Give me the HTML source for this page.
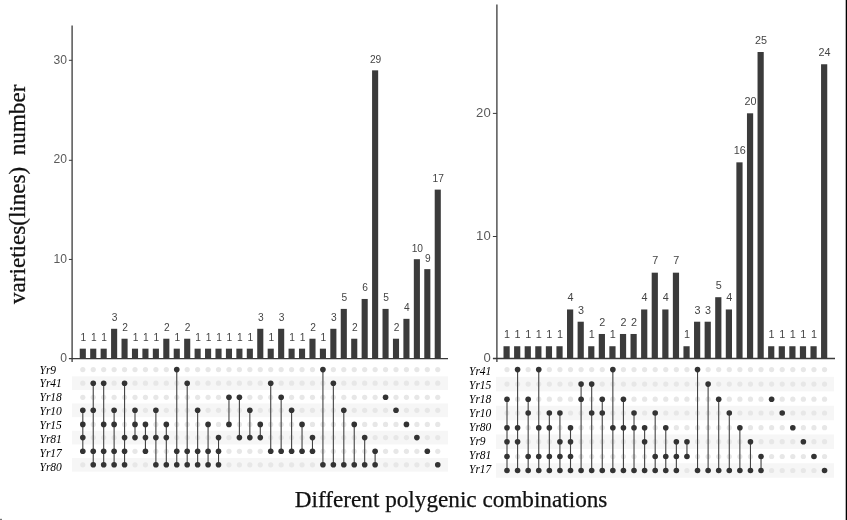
<!DOCTYPE html>
<html lang="en"><head><meta charset="utf-8"><title>Different polygenic combinations</title>
<style>html,body{margin:0;padding:0;background:#fff}body{width:847px;height:520px;overflow:hidden}svg{display:block}</style>
</head><body>
<svg width="847" height="520" viewBox="0 0 847 520">
<rect width="847" height="520" fill="#fff"/>
<g id="left">
<rect x="72" y="376.40" width="376" height="13.60" fill="#f6f6f6"/>
<rect x="72" y="403.50" width="376" height="13.60" fill="#f6f6f6"/>
<rect x="72" y="430.80" width="376" height="13.60" fill="#f6f6f6"/>
<rect x="72" y="458.00" width="376" height="13.60" fill="#f6f6f6"/>
<circle cx="82.80" cy="369.60" r="2.6" fill="#e7e7e7"/>
<circle cx="82.80" cy="383.20" r="2.6" fill="#e7e7e7"/>
<circle cx="82.80" cy="397.30" r="2.6" fill="#e7e7e7"/>
<circle cx="82.80" cy="410.30" r="2.6" fill="#e7e7e7"/>
<circle cx="82.80" cy="424.40" r="2.6" fill="#e7e7e7"/>
<circle cx="82.80" cy="437.60" r="2.6" fill="#e7e7e7"/>
<circle cx="82.80" cy="451.30" r="2.6" fill="#e7e7e7"/>
<circle cx="82.80" cy="464.80" r="2.6" fill="#e7e7e7"/>
<circle cx="93.24" cy="369.60" r="2.6" fill="#e7e7e7"/>
<circle cx="93.24" cy="383.20" r="2.6" fill="#e7e7e7"/>
<circle cx="93.24" cy="397.30" r="2.6" fill="#e7e7e7"/>
<circle cx="93.24" cy="410.30" r="2.6" fill="#e7e7e7"/>
<circle cx="93.24" cy="424.40" r="2.6" fill="#e7e7e7"/>
<circle cx="93.24" cy="437.60" r="2.6" fill="#e7e7e7"/>
<circle cx="93.24" cy="451.30" r="2.6" fill="#e7e7e7"/>
<circle cx="93.24" cy="464.80" r="2.6" fill="#e7e7e7"/>
<circle cx="103.68" cy="369.60" r="2.6" fill="#e7e7e7"/>
<circle cx="103.68" cy="383.20" r="2.6" fill="#e7e7e7"/>
<circle cx="103.68" cy="397.30" r="2.6" fill="#e7e7e7"/>
<circle cx="103.68" cy="410.30" r="2.6" fill="#e7e7e7"/>
<circle cx="103.68" cy="424.40" r="2.6" fill="#e7e7e7"/>
<circle cx="103.68" cy="437.60" r="2.6" fill="#e7e7e7"/>
<circle cx="103.68" cy="451.30" r="2.6" fill="#e7e7e7"/>
<circle cx="103.68" cy="464.80" r="2.6" fill="#e7e7e7"/>
<circle cx="114.12" cy="369.60" r="2.6" fill="#e7e7e7"/>
<circle cx="114.12" cy="383.20" r="2.6" fill="#e7e7e7"/>
<circle cx="114.12" cy="397.30" r="2.6" fill="#e7e7e7"/>
<circle cx="114.12" cy="410.30" r="2.6" fill="#e7e7e7"/>
<circle cx="114.12" cy="424.40" r="2.6" fill="#e7e7e7"/>
<circle cx="114.12" cy="437.60" r="2.6" fill="#e7e7e7"/>
<circle cx="114.12" cy="451.30" r="2.6" fill="#e7e7e7"/>
<circle cx="114.12" cy="464.80" r="2.6" fill="#e7e7e7"/>
<circle cx="124.56" cy="369.60" r="2.6" fill="#e7e7e7"/>
<circle cx="124.56" cy="383.20" r="2.6" fill="#e7e7e7"/>
<circle cx="124.56" cy="397.30" r="2.6" fill="#e7e7e7"/>
<circle cx="124.56" cy="410.30" r="2.6" fill="#e7e7e7"/>
<circle cx="124.56" cy="424.40" r="2.6" fill="#e7e7e7"/>
<circle cx="124.56" cy="437.60" r="2.6" fill="#e7e7e7"/>
<circle cx="124.56" cy="451.30" r="2.6" fill="#e7e7e7"/>
<circle cx="124.56" cy="464.80" r="2.6" fill="#e7e7e7"/>
<circle cx="135.00" cy="369.60" r="2.6" fill="#e7e7e7"/>
<circle cx="135.00" cy="383.20" r="2.6" fill="#e7e7e7"/>
<circle cx="135.00" cy="397.30" r="2.6" fill="#e7e7e7"/>
<circle cx="135.00" cy="410.30" r="2.6" fill="#e7e7e7"/>
<circle cx="135.00" cy="424.40" r="2.6" fill="#e7e7e7"/>
<circle cx="135.00" cy="437.60" r="2.6" fill="#e7e7e7"/>
<circle cx="135.00" cy="451.30" r="2.6" fill="#e7e7e7"/>
<circle cx="135.00" cy="464.80" r="2.6" fill="#e7e7e7"/>
<circle cx="145.44" cy="369.60" r="2.6" fill="#e7e7e7"/>
<circle cx="145.44" cy="383.20" r="2.6" fill="#e7e7e7"/>
<circle cx="145.44" cy="397.30" r="2.6" fill="#e7e7e7"/>
<circle cx="145.44" cy="410.30" r="2.6" fill="#e7e7e7"/>
<circle cx="145.44" cy="424.40" r="2.6" fill="#e7e7e7"/>
<circle cx="145.44" cy="437.60" r="2.6" fill="#e7e7e7"/>
<circle cx="145.44" cy="451.30" r="2.6" fill="#e7e7e7"/>
<circle cx="145.44" cy="464.80" r="2.6" fill="#e7e7e7"/>
<circle cx="155.88" cy="369.60" r="2.6" fill="#e7e7e7"/>
<circle cx="155.88" cy="383.20" r="2.6" fill="#e7e7e7"/>
<circle cx="155.88" cy="397.30" r="2.6" fill="#e7e7e7"/>
<circle cx="155.88" cy="410.30" r="2.6" fill="#e7e7e7"/>
<circle cx="155.88" cy="424.40" r="2.6" fill="#e7e7e7"/>
<circle cx="155.88" cy="437.60" r="2.6" fill="#e7e7e7"/>
<circle cx="155.88" cy="451.30" r="2.6" fill="#e7e7e7"/>
<circle cx="155.88" cy="464.80" r="2.6" fill="#e7e7e7"/>
<circle cx="166.32" cy="369.60" r="2.6" fill="#e7e7e7"/>
<circle cx="166.32" cy="383.20" r="2.6" fill="#e7e7e7"/>
<circle cx="166.32" cy="397.30" r="2.6" fill="#e7e7e7"/>
<circle cx="166.32" cy="410.30" r="2.6" fill="#e7e7e7"/>
<circle cx="166.32" cy="424.40" r="2.6" fill="#e7e7e7"/>
<circle cx="166.32" cy="437.60" r="2.6" fill="#e7e7e7"/>
<circle cx="166.32" cy="451.30" r="2.6" fill="#e7e7e7"/>
<circle cx="166.32" cy="464.80" r="2.6" fill="#e7e7e7"/>
<circle cx="176.76" cy="369.60" r="2.6" fill="#e7e7e7"/>
<circle cx="176.76" cy="383.20" r="2.6" fill="#e7e7e7"/>
<circle cx="176.76" cy="397.30" r="2.6" fill="#e7e7e7"/>
<circle cx="176.76" cy="410.30" r="2.6" fill="#e7e7e7"/>
<circle cx="176.76" cy="424.40" r="2.6" fill="#e7e7e7"/>
<circle cx="176.76" cy="437.60" r="2.6" fill="#e7e7e7"/>
<circle cx="176.76" cy="451.30" r="2.6" fill="#e7e7e7"/>
<circle cx="176.76" cy="464.80" r="2.6" fill="#e7e7e7"/>
<circle cx="187.20" cy="369.60" r="2.6" fill="#e7e7e7"/>
<circle cx="187.20" cy="383.20" r="2.6" fill="#e7e7e7"/>
<circle cx="187.20" cy="397.30" r="2.6" fill="#e7e7e7"/>
<circle cx="187.20" cy="410.30" r="2.6" fill="#e7e7e7"/>
<circle cx="187.20" cy="424.40" r="2.6" fill="#e7e7e7"/>
<circle cx="187.20" cy="437.60" r="2.6" fill="#e7e7e7"/>
<circle cx="187.20" cy="451.30" r="2.6" fill="#e7e7e7"/>
<circle cx="187.20" cy="464.80" r="2.6" fill="#e7e7e7"/>
<circle cx="197.64" cy="369.60" r="2.6" fill="#e7e7e7"/>
<circle cx="197.64" cy="383.20" r="2.6" fill="#e7e7e7"/>
<circle cx="197.64" cy="397.30" r="2.6" fill="#e7e7e7"/>
<circle cx="197.64" cy="410.30" r="2.6" fill="#e7e7e7"/>
<circle cx="197.64" cy="424.40" r="2.6" fill="#e7e7e7"/>
<circle cx="197.64" cy="437.60" r="2.6" fill="#e7e7e7"/>
<circle cx="197.64" cy="451.30" r="2.6" fill="#e7e7e7"/>
<circle cx="197.64" cy="464.80" r="2.6" fill="#e7e7e7"/>
<circle cx="208.08" cy="369.60" r="2.6" fill="#e7e7e7"/>
<circle cx="208.08" cy="383.20" r="2.6" fill="#e7e7e7"/>
<circle cx="208.08" cy="397.30" r="2.6" fill="#e7e7e7"/>
<circle cx="208.08" cy="410.30" r="2.6" fill="#e7e7e7"/>
<circle cx="208.08" cy="424.40" r="2.6" fill="#e7e7e7"/>
<circle cx="208.08" cy="437.60" r="2.6" fill="#e7e7e7"/>
<circle cx="208.08" cy="451.30" r="2.6" fill="#e7e7e7"/>
<circle cx="208.08" cy="464.80" r="2.6" fill="#e7e7e7"/>
<circle cx="218.52" cy="369.60" r="2.6" fill="#e7e7e7"/>
<circle cx="218.52" cy="383.20" r="2.6" fill="#e7e7e7"/>
<circle cx="218.52" cy="397.30" r="2.6" fill="#e7e7e7"/>
<circle cx="218.52" cy="410.30" r="2.6" fill="#e7e7e7"/>
<circle cx="218.52" cy="424.40" r="2.6" fill="#e7e7e7"/>
<circle cx="218.52" cy="437.60" r="2.6" fill="#e7e7e7"/>
<circle cx="218.52" cy="451.30" r="2.6" fill="#e7e7e7"/>
<circle cx="218.52" cy="464.80" r="2.6" fill="#e7e7e7"/>
<circle cx="228.96" cy="369.60" r="2.6" fill="#e7e7e7"/>
<circle cx="228.96" cy="383.20" r="2.6" fill="#e7e7e7"/>
<circle cx="228.96" cy="397.30" r="2.6" fill="#e7e7e7"/>
<circle cx="228.96" cy="410.30" r="2.6" fill="#e7e7e7"/>
<circle cx="228.96" cy="424.40" r="2.6" fill="#e7e7e7"/>
<circle cx="228.96" cy="437.60" r="2.6" fill="#e7e7e7"/>
<circle cx="228.96" cy="451.30" r="2.6" fill="#e7e7e7"/>
<circle cx="228.96" cy="464.80" r="2.6" fill="#e7e7e7"/>
<circle cx="239.40" cy="369.60" r="2.6" fill="#e7e7e7"/>
<circle cx="239.40" cy="383.20" r="2.6" fill="#e7e7e7"/>
<circle cx="239.40" cy="397.30" r="2.6" fill="#e7e7e7"/>
<circle cx="239.40" cy="410.30" r="2.6" fill="#e7e7e7"/>
<circle cx="239.40" cy="424.40" r="2.6" fill="#e7e7e7"/>
<circle cx="239.40" cy="437.60" r="2.6" fill="#e7e7e7"/>
<circle cx="239.40" cy="451.30" r="2.6" fill="#e7e7e7"/>
<circle cx="239.40" cy="464.80" r="2.6" fill="#e7e7e7"/>
<circle cx="249.84" cy="369.60" r="2.6" fill="#e7e7e7"/>
<circle cx="249.84" cy="383.20" r="2.6" fill="#e7e7e7"/>
<circle cx="249.84" cy="397.30" r="2.6" fill="#e7e7e7"/>
<circle cx="249.84" cy="410.30" r="2.6" fill="#e7e7e7"/>
<circle cx="249.84" cy="424.40" r="2.6" fill="#e7e7e7"/>
<circle cx="249.84" cy="437.60" r="2.6" fill="#e7e7e7"/>
<circle cx="249.84" cy="451.30" r="2.6" fill="#e7e7e7"/>
<circle cx="249.84" cy="464.80" r="2.6" fill="#e7e7e7"/>
<circle cx="260.28" cy="369.60" r="2.6" fill="#e7e7e7"/>
<circle cx="260.28" cy="383.20" r="2.6" fill="#e7e7e7"/>
<circle cx="260.28" cy="397.30" r="2.6" fill="#e7e7e7"/>
<circle cx="260.28" cy="410.30" r="2.6" fill="#e7e7e7"/>
<circle cx="260.28" cy="424.40" r="2.6" fill="#e7e7e7"/>
<circle cx="260.28" cy="437.60" r="2.6" fill="#e7e7e7"/>
<circle cx="260.28" cy="451.30" r="2.6" fill="#e7e7e7"/>
<circle cx="260.28" cy="464.80" r="2.6" fill="#e7e7e7"/>
<circle cx="270.72" cy="369.60" r="2.6" fill="#e7e7e7"/>
<circle cx="270.72" cy="383.20" r="2.6" fill="#e7e7e7"/>
<circle cx="270.72" cy="397.30" r="2.6" fill="#e7e7e7"/>
<circle cx="270.72" cy="410.30" r="2.6" fill="#e7e7e7"/>
<circle cx="270.72" cy="424.40" r="2.6" fill="#e7e7e7"/>
<circle cx="270.72" cy="437.60" r="2.6" fill="#e7e7e7"/>
<circle cx="270.72" cy="451.30" r="2.6" fill="#e7e7e7"/>
<circle cx="270.72" cy="464.80" r="2.6" fill="#e7e7e7"/>
<circle cx="281.16" cy="369.60" r="2.6" fill="#e7e7e7"/>
<circle cx="281.16" cy="383.20" r="2.6" fill="#e7e7e7"/>
<circle cx="281.16" cy="397.30" r="2.6" fill="#e7e7e7"/>
<circle cx="281.16" cy="410.30" r="2.6" fill="#e7e7e7"/>
<circle cx="281.16" cy="424.40" r="2.6" fill="#e7e7e7"/>
<circle cx="281.16" cy="437.60" r="2.6" fill="#e7e7e7"/>
<circle cx="281.16" cy="451.30" r="2.6" fill="#e7e7e7"/>
<circle cx="281.16" cy="464.80" r="2.6" fill="#e7e7e7"/>
<circle cx="291.60" cy="369.60" r="2.6" fill="#e7e7e7"/>
<circle cx="291.60" cy="383.20" r="2.6" fill="#e7e7e7"/>
<circle cx="291.60" cy="397.30" r="2.6" fill="#e7e7e7"/>
<circle cx="291.60" cy="410.30" r="2.6" fill="#e7e7e7"/>
<circle cx="291.60" cy="424.40" r="2.6" fill="#e7e7e7"/>
<circle cx="291.60" cy="437.60" r="2.6" fill="#e7e7e7"/>
<circle cx="291.60" cy="451.30" r="2.6" fill="#e7e7e7"/>
<circle cx="291.60" cy="464.80" r="2.6" fill="#e7e7e7"/>
<circle cx="302.04" cy="369.60" r="2.6" fill="#e7e7e7"/>
<circle cx="302.04" cy="383.20" r="2.6" fill="#e7e7e7"/>
<circle cx="302.04" cy="397.30" r="2.6" fill="#e7e7e7"/>
<circle cx="302.04" cy="410.30" r="2.6" fill="#e7e7e7"/>
<circle cx="302.04" cy="424.40" r="2.6" fill="#e7e7e7"/>
<circle cx="302.04" cy="437.60" r="2.6" fill="#e7e7e7"/>
<circle cx="302.04" cy="451.30" r="2.6" fill="#e7e7e7"/>
<circle cx="302.04" cy="464.80" r="2.6" fill="#e7e7e7"/>
<circle cx="312.48" cy="369.60" r="2.6" fill="#e7e7e7"/>
<circle cx="312.48" cy="383.20" r="2.6" fill="#e7e7e7"/>
<circle cx="312.48" cy="397.30" r="2.6" fill="#e7e7e7"/>
<circle cx="312.48" cy="410.30" r="2.6" fill="#e7e7e7"/>
<circle cx="312.48" cy="424.40" r="2.6" fill="#e7e7e7"/>
<circle cx="312.48" cy="437.60" r="2.6" fill="#e7e7e7"/>
<circle cx="312.48" cy="451.30" r="2.6" fill="#e7e7e7"/>
<circle cx="312.48" cy="464.80" r="2.6" fill="#e7e7e7"/>
<circle cx="322.92" cy="369.60" r="2.6" fill="#e7e7e7"/>
<circle cx="322.92" cy="383.20" r="2.6" fill="#e7e7e7"/>
<circle cx="322.92" cy="397.30" r="2.6" fill="#e7e7e7"/>
<circle cx="322.92" cy="410.30" r="2.6" fill="#e7e7e7"/>
<circle cx="322.92" cy="424.40" r="2.6" fill="#e7e7e7"/>
<circle cx="322.92" cy="437.60" r="2.6" fill="#e7e7e7"/>
<circle cx="322.92" cy="451.30" r="2.6" fill="#e7e7e7"/>
<circle cx="322.92" cy="464.80" r="2.6" fill="#e7e7e7"/>
<circle cx="333.36" cy="369.60" r="2.6" fill="#e7e7e7"/>
<circle cx="333.36" cy="383.20" r="2.6" fill="#e7e7e7"/>
<circle cx="333.36" cy="397.30" r="2.6" fill="#e7e7e7"/>
<circle cx="333.36" cy="410.30" r="2.6" fill="#e7e7e7"/>
<circle cx="333.36" cy="424.40" r="2.6" fill="#e7e7e7"/>
<circle cx="333.36" cy="437.60" r="2.6" fill="#e7e7e7"/>
<circle cx="333.36" cy="451.30" r="2.6" fill="#e7e7e7"/>
<circle cx="333.36" cy="464.80" r="2.6" fill="#e7e7e7"/>
<circle cx="343.80" cy="369.60" r="2.6" fill="#e7e7e7"/>
<circle cx="343.80" cy="383.20" r="2.6" fill="#e7e7e7"/>
<circle cx="343.80" cy="397.30" r="2.6" fill="#e7e7e7"/>
<circle cx="343.80" cy="410.30" r="2.6" fill="#e7e7e7"/>
<circle cx="343.80" cy="424.40" r="2.6" fill="#e7e7e7"/>
<circle cx="343.80" cy="437.60" r="2.6" fill="#e7e7e7"/>
<circle cx="343.80" cy="451.30" r="2.6" fill="#e7e7e7"/>
<circle cx="343.80" cy="464.80" r="2.6" fill="#e7e7e7"/>
<circle cx="354.24" cy="369.60" r="2.6" fill="#e7e7e7"/>
<circle cx="354.24" cy="383.20" r="2.6" fill="#e7e7e7"/>
<circle cx="354.24" cy="397.30" r="2.6" fill="#e7e7e7"/>
<circle cx="354.24" cy="410.30" r="2.6" fill="#e7e7e7"/>
<circle cx="354.24" cy="424.40" r="2.6" fill="#e7e7e7"/>
<circle cx="354.24" cy="437.60" r="2.6" fill="#e7e7e7"/>
<circle cx="354.24" cy="451.30" r="2.6" fill="#e7e7e7"/>
<circle cx="354.24" cy="464.80" r="2.6" fill="#e7e7e7"/>
<circle cx="364.68" cy="369.60" r="2.6" fill="#e7e7e7"/>
<circle cx="364.68" cy="383.20" r="2.6" fill="#e7e7e7"/>
<circle cx="364.68" cy="397.30" r="2.6" fill="#e7e7e7"/>
<circle cx="364.68" cy="410.30" r="2.6" fill="#e7e7e7"/>
<circle cx="364.68" cy="424.40" r="2.6" fill="#e7e7e7"/>
<circle cx="364.68" cy="437.60" r="2.6" fill="#e7e7e7"/>
<circle cx="364.68" cy="451.30" r="2.6" fill="#e7e7e7"/>
<circle cx="364.68" cy="464.80" r="2.6" fill="#e7e7e7"/>
<circle cx="375.12" cy="369.60" r="2.6" fill="#e7e7e7"/>
<circle cx="375.12" cy="383.20" r="2.6" fill="#e7e7e7"/>
<circle cx="375.12" cy="397.30" r="2.6" fill="#e7e7e7"/>
<circle cx="375.12" cy="410.30" r="2.6" fill="#e7e7e7"/>
<circle cx="375.12" cy="424.40" r="2.6" fill="#e7e7e7"/>
<circle cx="375.12" cy="437.60" r="2.6" fill="#e7e7e7"/>
<circle cx="375.12" cy="451.30" r="2.6" fill="#e7e7e7"/>
<circle cx="375.12" cy="464.80" r="2.6" fill="#e7e7e7"/>
<circle cx="385.56" cy="369.60" r="2.6" fill="#e7e7e7"/>
<circle cx="385.56" cy="383.20" r="2.6" fill="#e7e7e7"/>
<circle cx="385.56" cy="397.30" r="2.6" fill="#e7e7e7"/>
<circle cx="385.56" cy="410.30" r="2.6" fill="#e7e7e7"/>
<circle cx="385.56" cy="424.40" r="2.6" fill="#e7e7e7"/>
<circle cx="385.56" cy="437.60" r="2.6" fill="#e7e7e7"/>
<circle cx="385.56" cy="451.30" r="2.6" fill="#e7e7e7"/>
<circle cx="385.56" cy="464.80" r="2.6" fill="#e7e7e7"/>
<circle cx="396.00" cy="369.60" r="2.6" fill="#e7e7e7"/>
<circle cx="396.00" cy="383.20" r="2.6" fill="#e7e7e7"/>
<circle cx="396.00" cy="397.30" r="2.6" fill="#e7e7e7"/>
<circle cx="396.00" cy="410.30" r="2.6" fill="#e7e7e7"/>
<circle cx="396.00" cy="424.40" r="2.6" fill="#e7e7e7"/>
<circle cx="396.00" cy="437.60" r="2.6" fill="#e7e7e7"/>
<circle cx="396.00" cy="451.30" r="2.6" fill="#e7e7e7"/>
<circle cx="396.00" cy="464.80" r="2.6" fill="#e7e7e7"/>
<circle cx="406.44" cy="369.60" r="2.6" fill="#e7e7e7"/>
<circle cx="406.44" cy="383.20" r="2.6" fill="#e7e7e7"/>
<circle cx="406.44" cy="397.30" r="2.6" fill="#e7e7e7"/>
<circle cx="406.44" cy="410.30" r="2.6" fill="#e7e7e7"/>
<circle cx="406.44" cy="424.40" r="2.6" fill="#e7e7e7"/>
<circle cx="406.44" cy="437.60" r="2.6" fill="#e7e7e7"/>
<circle cx="406.44" cy="451.30" r="2.6" fill="#e7e7e7"/>
<circle cx="406.44" cy="464.80" r="2.6" fill="#e7e7e7"/>
<circle cx="416.88" cy="369.60" r="2.6" fill="#e7e7e7"/>
<circle cx="416.88" cy="383.20" r="2.6" fill="#e7e7e7"/>
<circle cx="416.88" cy="397.30" r="2.6" fill="#e7e7e7"/>
<circle cx="416.88" cy="410.30" r="2.6" fill="#e7e7e7"/>
<circle cx="416.88" cy="424.40" r="2.6" fill="#e7e7e7"/>
<circle cx="416.88" cy="437.60" r="2.6" fill="#e7e7e7"/>
<circle cx="416.88" cy="451.30" r="2.6" fill="#e7e7e7"/>
<circle cx="416.88" cy="464.80" r="2.6" fill="#e7e7e7"/>
<circle cx="427.32" cy="369.60" r="2.6" fill="#e7e7e7"/>
<circle cx="427.32" cy="383.20" r="2.6" fill="#e7e7e7"/>
<circle cx="427.32" cy="397.30" r="2.6" fill="#e7e7e7"/>
<circle cx="427.32" cy="410.30" r="2.6" fill="#e7e7e7"/>
<circle cx="427.32" cy="424.40" r="2.6" fill="#e7e7e7"/>
<circle cx="427.32" cy="437.60" r="2.6" fill="#e7e7e7"/>
<circle cx="427.32" cy="451.30" r="2.6" fill="#e7e7e7"/>
<circle cx="427.32" cy="464.80" r="2.6" fill="#e7e7e7"/>
<circle cx="437.76" cy="369.60" r="2.6" fill="#e7e7e7"/>
<circle cx="437.76" cy="383.20" r="2.6" fill="#e7e7e7"/>
<circle cx="437.76" cy="397.30" r="2.6" fill="#e7e7e7"/>
<circle cx="437.76" cy="410.30" r="2.6" fill="#e7e7e7"/>
<circle cx="437.76" cy="424.40" r="2.6" fill="#e7e7e7"/>
<circle cx="437.76" cy="437.60" r="2.6" fill="#e7e7e7"/>
<circle cx="437.76" cy="451.30" r="2.6" fill="#e7e7e7"/>
<circle cx="437.76" cy="464.80" r="2.6" fill="#e7e7e7"/>
<line x1="82.80" x2="82.80" y1="410.30" y2="451.30" stroke="#444" stroke-width="1.1"/>
<circle cx="82.80" cy="410.30" r="2.8" fill="#333"/>
<circle cx="82.80" cy="424.40" r="2.8" fill="#333"/>
<circle cx="82.80" cy="437.60" r="2.8" fill="#333"/>
<circle cx="82.80" cy="451.30" r="2.8" fill="#333"/>
<line x1="93.24" x2="93.24" y1="383.20" y2="464.80" stroke="#444" stroke-width="1.1"/>
<circle cx="93.24" cy="383.20" r="2.8" fill="#333"/>
<circle cx="93.24" cy="410.30" r="2.8" fill="#333"/>
<circle cx="93.24" cy="451.30" r="2.8" fill="#333"/>
<circle cx="93.24" cy="464.80" r="2.8" fill="#333"/>
<line x1="103.68" x2="103.68" y1="383.20" y2="464.80" stroke="#444" stroke-width="1.1"/>
<circle cx="103.68" cy="383.20" r="2.8" fill="#333"/>
<circle cx="103.68" cy="424.40" r="2.8" fill="#333"/>
<circle cx="103.68" cy="451.30" r="2.8" fill="#333"/>
<circle cx="103.68" cy="464.80" r="2.8" fill="#333"/>
<line x1="114.12" x2="114.12" y1="410.30" y2="464.80" stroke="#444" stroke-width="1.1"/>
<circle cx="114.12" cy="410.30" r="2.8" fill="#333"/>
<circle cx="114.12" cy="424.40" r="2.8" fill="#333"/>
<circle cx="114.12" cy="451.30" r="2.8" fill="#333"/>
<circle cx="114.12" cy="464.80" r="2.8" fill="#333"/>
<line x1="124.56" x2="124.56" y1="383.20" y2="464.80" stroke="#444" stroke-width="1.1"/>
<circle cx="124.56" cy="383.20" r="2.8" fill="#333"/>
<circle cx="124.56" cy="437.60" r="2.8" fill="#333"/>
<circle cx="124.56" cy="451.30" r="2.8" fill="#333"/>
<circle cx="124.56" cy="464.80" r="2.8" fill="#333"/>
<line x1="135.00" x2="135.00" y1="410.30" y2="437.60" stroke="#444" stroke-width="1.1"/>
<circle cx="135.00" cy="410.30" r="2.8" fill="#333"/>
<circle cx="135.00" cy="424.40" r="2.8" fill="#333"/>
<circle cx="135.00" cy="437.60" r="2.8" fill="#333"/>
<line x1="145.44" x2="145.44" y1="424.40" y2="451.30" stroke="#444" stroke-width="1.1"/>
<circle cx="145.44" cy="424.40" r="2.8" fill="#333"/>
<circle cx="145.44" cy="437.60" r="2.8" fill="#333"/>
<circle cx="145.44" cy="451.30" r="2.8" fill="#333"/>
<line x1="155.88" x2="155.88" y1="410.30" y2="464.80" stroke="#444" stroke-width="1.1"/>
<circle cx="155.88" cy="410.30" r="2.8" fill="#333"/>
<circle cx="155.88" cy="437.60" r="2.8" fill="#333"/>
<circle cx="155.88" cy="464.80" r="2.8" fill="#333"/>
<line x1="166.32" x2="166.32" y1="424.40" y2="464.80" stroke="#444" stroke-width="1.1"/>
<circle cx="166.32" cy="424.40" r="2.8" fill="#333"/>
<circle cx="166.32" cy="437.60" r="2.8" fill="#333"/>
<circle cx="166.32" cy="464.80" r="2.8" fill="#333"/>
<line x1="176.76" x2="176.76" y1="369.60" y2="464.80" stroke="#444" stroke-width="1.1"/>
<circle cx="176.76" cy="369.60" r="2.8" fill="#333"/>
<circle cx="176.76" cy="451.30" r="2.8" fill="#333"/>
<circle cx="176.76" cy="464.80" r="2.8" fill="#333"/>
<line x1="187.20" x2="187.20" y1="383.20" y2="464.80" stroke="#444" stroke-width="1.1"/>
<circle cx="187.20" cy="383.20" r="2.8" fill="#333"/>
<circle cx="187.20" cy="451.30" r="2.8" fill="#333"/>
<circle cx="187.20" cy="464.80" r="2.8" fill="#333"/>
<line x1="197.64" x2="197.64" y1="410.30" y2="464.80" stroke="#444" stroke-width="1.1"/>
<circle cx="197.64" cy="410.30" r="2.8" fill="#333"/>
<circle cx="197.64" cy="451.30" r="2.8" fill="#333"/>
<circle cx="197.64" cy="464.80" r="2.8" fill="#333"/>
<line x1="208.08" x2="208.08" y1="424.40" y2="464.80" stroke="#444" stroke-width="1.1"/>
<circle cx="208.08" cy="424.40" r="2.8" fill="#333"/>
<circle cx="208.08" cy="451.30" r="2.8" fill="#333"/>
<circle cx="208.08" cy="464.80" r="2.8" fill="#333"/>
<line x1="218.52" x2="218.52" y1="437.60" y2="464.80" stroke="#444" stroke-width="1.1"/>
<circle cx="218.52" cy="437.60" r="2.8" fill="#333"/>
<circle cx="218.52" cy="451.30" r="2.8" fill="#333"/>
<circle cx="218.52" cy="464.80" r="2.8" fill="#333"/>
<line x1="228.96" x2="228.96" y1="397.30" y2="424.40" stroke="#444" stroke-width="1.1"/>
<circle cx="228.96" cy="397.30" r="2.8" fill="#333"/>
<circle cx="228.96" cy="424.40" r="2.8" fill="#333"/>
<line x1="239.40" x2="239.40" y1="397.30" y2="437.60" stroke="#444" stroke-width="1.1"/>
<circle cx="239.40" cy="397.30" r="2.8" fill="#333"/>
<circle cx="239.40" cy="437.60" r="2.8" fill="#333"/>
<line x1="249.84" x2="249.84" y1="410.30" y2="437.60" stroke="#444" stroke-width="1.1"/>
<circle cx="249.84" cy="410.30" r="2.8" fill="#333"/>
<circle cx="249.84" cy="437.60" r="2.8" fill="#333"/>
<line x1="260.28" x2="260.28" y1="424.40" y2="437.60" stroke="#444" stroke-width="1.1"/>
<circle cx="260.28" cy="424.40" r="2.8" fill="#333"/>
<circle cx="260.28" cy="437.60" r="2.8" fill="#333"/>
<line x1="270.72" x2="270.72" y1="383.20" y2="451.30" stroke="#444" stroke-width="1.1"/>
<circle cx="270.72" cy="383.20" r="2.8" fill="#333"/>
<circle cx="270.72" cy="451.30" r="2.8" fill="#333"/>
<line x1="281.16" x2="281.16" y1="397.30" y2="451.30" stroke="#444" stroke-width="1.1"/>
<circle cx="281.16" cy="397.30" r="2.8" fill="#333"/>
<circle cx="281.16" cy="451.30" r="2.8" fill="#333"/>
<line x1="291.60" x2="291.60" y1="410.30" y2="451.30" stroke="#444" stroke-width="1.1"/>
<circle cx="291.60" cy="410.30" r="2.8" fill="#333"/>
<circle cx="291.60" cy="451.30" r="2.8" fill="#333"/>
<line x1="302.04" x2="302.04" y1="424.40" y2="451.30" stroke="#444" stroke-width="1.1"/>
<circle cx="302.04" cy="424.40" r="2.8" fill="#333"/>
<circle cx="302.04" cy="451.30" r="2.8" fill="#333"/>
<line x1="312.48" x2="312.48" y1="437.60" y2="451.30" stroke="#444" stroke-width="1.1"/>
<circle cx="312.48" cy="437.60" r="2.8" fill="#333"/>
<circle cx="312.48" cy="451.30" r="2.8" fill="#333"/>
<line x1="322.92" x2="322.92" y1="369.60" y2="464.80" stroke="#444" stroke-width="1.1"/>
<circle cx="322.92" cy="369.60" r="2.8" fill="#333"/>
<circle cx="322.92" cy="464.80" r="2.8" fill="#333"/>
<line x1="333.36" x2="333.36" y1="383.20" y2="464.80" stroke="#444" stroke-width="1.1"/>
<circle cx="333.36" cy="383.20" r="2.8" fill="#333"/>
<circle cx="333.36" cy="464.80" r="2.8" fill="#333"/>
<line x1="343.80" x2="343.80" y1="410.30" y2="464.80" stroke="#444" stroke-width="1.1"/>
<circle cx="343.80" cy="410.30" r="2.8" fill="#333"/>
<circle cx="343.80" cy="464.80" r="2.8" fill="#333"/>
<line x1="354.24" x2="354.24" y1="424.40" y2="464.80" stroke="#444" stroke-width="1.1"/>
<circle cx="354.24" cy="424.40" r="2.8" fill="#333"/>
<circle cx="354.24" cy="464.80" r="2.8" fill="#333"/>
<line x1="364.68" x2="364.68" y1="437.60" y2="464.80" stroke="#444" stroke-width="1.1"/>
<circle cx="364.68" cy="437.60" r="2.8" fill="#333"/>
<circle cx="364.68" cy="464.80" r="2.8" fill="#333"/>
<line x1="375.12" x2="375.12" y1="451.30" y2="464.80" stroke="#444" stroke-width="1.1"/>
<circle cx="375.12" cy="451.30" r="2.8" fill="#333"/>
<circle cx="375.12" cy="464.80" r="2.8" fill="#333"/>
<circle cx="385.56" cy="397.30" r="2.8" fill="#333"/>
<circle cx="396.00" cy="410.30" r="2.8" fill="#333"/>
<circle cx="406.44" cy="424.40" r="2.8" fill="#333"/>
<circle cx="416.88" cy="437.60" r="2.8" fill="#333"/>
<circle cx="427.32" cy="451.30" r="2.8" fill="#333"/>
<circle cx="437.76" cy="464.80" r="2.8" fill="#333"/>
<rect x="79.75" y="348.66" width="6.1" height="9.94" fill="#3b3b3b"/>
<text x="83.30" y="341.16" text-anchor="middle" font-family="Liberation Sans, sans-serif" font-size="10.2" fill="#444">1</text>
<rect x="90.19" y="348.66" width="6.1" height="9.94" fill="#3b3b3b"/>
<text x="93.74" y="341.16" text-anchor="middle" font-family="Liberation Sans, sans-serif" font-size="10.2" fill="#444">1</text>
<rect x="100.63" y="348.66" width="6.1" height="9.94" fill="#3b3b3b"/>
<text x="104.18" y="341.16" text-anchor="middle" font-family="Liberation Sans, sans-serif" font-size="10.2" fill="#444">1</text>
<rect x="111.07" y="328.78" width="6.1" height="29.82" fill="#3b3b3b"/>
<text x="114.62" y="321.28" text-anchor="middle" font-family="Liberation Sans, sans-serif" font-size="10.2" fill="#444">3</text>
<rect x="121.51" y="338.72" width="6.1" height="19.88" fill="#3b3b3b"/>
<text x="125.06" y="331.22" text-anchor="middle" font-family="Liberation Sans, sans-serif" font-size="10.2" fill="#444">2</text>
<rect x="131.95" y="348.66" width="6.1" height="9.94" fill="#3b3b3b"/>
<text x="135.50" y="341.16" text-anchor="middle" font-family="Liberation Sans, sans-serif" font-size="10.2" fill="#444">1</text>
<rect x="142.39" y="348.66" width="6.1" height="9.94" fill="#3b3b3b"/>
<text x="145.94" y="341.16" text-anchor="middle" font-family="Liberation Sans, sans-serif" font-size="10.2" fill="#444">1</text>
<rect x="152.83" y="348.66" width="6.1" height="9.94" fill="#3b3b3b"/>
<text x="156.38" y="341.16" text-anchor="middle" font-family="Liberation Sans, sans-serif" font-size="10.2" fill="#444">1</text>
<rect x="163.27" y="338.72" width="6.1" height="19.88" fill="#3b3b3b"/>
<text x="166.82" y="331.22" text-anchor="middle" font-family="Liberation Sans, sans-serif" font-size="10.2" fill="#444">2</text>
<rect x="173.71" y="348.66" width="6.1" height="9.94" fill="#3b3b3b"/>
<text x="177.26" y="341.16" text-anchor="middle" font-family="Liberation Sans, sans-serif" font-size="10.2" fill="#444">1</text>
<rect x="184.15" y="338.72" width="6.1" height="19.88" fill="#3b3b3b"/>
<text x="187.70" y="331.22" text-anchor="middle" font-family="Liberation Sans, sans-serif" font-size="10.2" fill="#444">2</text>
<rect x="194.59" y="348.66" width="6.1" height="9.94" fill="#3b3b3b"/>
<text x="198.14" y="341.16" text-anchor="middle" font-family="Liberation Sans, sans-serif" font-size="10.2" fill="#444">1</text>
<rect x="205.03" y="348.66" width="6.1" height="9.94" fill="#3b3b3b"/>
<text x="208.58" y="341.16" text-anchor="middle" font-family="Liberation Sans, sans-serif" font-size="10.2" fill="#444">1</text>
<rect x="215.47" y="348.66" width="6.1" height="9.94" fill="#3b3b3b"/>
<text x="219.02" y="341.16" text-anchor="middle" font-family="Liberation Sans, sans-serif" font-size="10.2" fill="#444">1</text>
<rect x="225.91" y="348.66" width="6.1" height="9.94" fill="#3b3b3b"/>
<text x="229.46" y="341.16" text-anchor="middle" font-family="Liberation Sans, sans-serif" font-size="10.2" fill="#444">1</text>
<rect x="236.35" y="348.66" width="6.1" height="9.94" fill="#3b3b3b"/>
<text x="239.90" y="341.16" text-anchor="middle" font-family="Liberation Sans, sans-serif" font-size="10.2" fill="#444">1</text>
<rect x="246.79" y="348.66" width="6.1" height="9.94" fill="#3b3b3b"/>
<text x="250.34" y="341.16" text-anchor="middle" font-family="Liberation Sans, sans-serif" font-size="10.2" fill="#444">1</text>
<rect x="257.23" y="328.78" width="6.1" height="29.82" fill="#3b3b3b"/>
<text x="260.78" y="321.28" text-anchor="middle" font-family="Liberation Sans, sans-serif" font-size="10.2" fill="#444">3</text>
<rect x="267.67" y="348.66" width="6.1" height="9.94" fill="#3b3b3b"/>
<text x="271.22" y="341.16" text-anchor="middle" font-family="Liberation Sans, sans-serif" font-size="10.2" fill="#444">1</text>
<rect x="278.11" y="328.78" width="6.1" height="29.82" fill="#3b3b3b"/>
<text x="281.66" y="321.28" text-anchor="middle" font-family="Liberation Sans, sans-serif" font-size="10.2" fill="#444">3</text>
<rect x="288.55" y="348.66" width="6.1" height="9.94" fill="#3b3b3b"/>
<text x="292.10" y="341.16" text-anchor="middle" font-family="Liberation Sans, sans-serif" font-size="10.2" fill="#444">1</text>
<rect x="298.99" y="348.66" width="6.1" height="9.94" fill="#3b3b3b"/>
<text x="302.54" y="341.16" text-anchor="middle" font-family="Liberation Sans, sans-serif" font-size="10.2" fill="#444">1</text>
<rect x="309.43" y="338.72" width="6.1" height="19.88" fill="#3b3b3b"/>
<text x="312.98" y="331.22" text-anchor="middle" font-family="Liberation Sans, sans-serif" font-size="10.2" fill="#444">2</text>
<rect x="319.87" y="348.66" width="6.1" height="9.94" fill="#3b3b3b"/>
<text x="323.42" y="341.16" text-anchor="middle" font-family="Liberation Sans, sans-serif" font-size="10.2" fill="#444">1</text>
<rect x="330.31" y="328.78" width="6.1" height="29.82" fill="#3b3b3b"/>
<text x="333.86" y="321.28" text-anchor="middle" font-family="Liberation Sans, sans-serif" font-size="10.2" fill="#444">3</text>
<rect x="340.75" y="308.90" width="6.1" height="49.70" fill="#3b3b3b"/>
<text x="344.30" y="301.40" text-anchor="middle" font-family="Liberation Sans, sans-serif" font-size="10.2" fill="#444">5</text>
<rect x="351.19" y="338.72" width="6.1" height="19.88" fill="#3b3b3b"/>
<text x="354.74" y="331.22" text-anchor="middle" font-family="Liberation Sans, sans-serif" font-size="10.2" fill="#444">2</text>
<rect x="361.63" y="298.96" width="6.1" height="59.64" fill="#3b3b3b"/>
<text x="365.18" y="291.46" text-anchor="middle" font-family="Liberation Sans, sans-serif" font-size="10.2" fill="#444">6</text>
<rect x="372.07" y="70.34" width="6.1" height="288.26" fill="#3b3b3b"/>
<text x="375.62" y="62.84" text-anchor="middle" font-family="Liberation Sans, sans-serif" font-size="10.2" fill="#444">29</text>
<rect x="382.51" y="308.90" width="6.1" height="49.70" fill="#3b3b3b"/>
<text x="386.06" y="301.40" text-anchor="middle" font-family="Liberation Sans, sans-serif" font-size="10.2" fill="#444">5</text>
<rect x="392.95" y="338.72" width="6.1" height="19.88" fill="#3b3b3b"/>
<text x="396.50" y="331.22" text-anchor="middle" font-family="Liberation Sans, sans-serif" font-size="10.2" fill="#444">2</text>
<rect x="403.39" y="318.84" width="6.1" height="39.76" fill="#3b3b3b"/>
<text x="406.94" y="311.34" text-anchor="middle" font-family="Liberation Sans, sans-serif" font-size="10.2" fill="#444">4</text>
<rect x="413.83" y="259.20" width="6.1" height="99.40" fill="#3b3b3b"/>
<text x="417.38" y="251.70" text-anchor="middle" font-family="Liberation Sans, sans-serif" font-size="10.2" fill="#444">10</text>
<rect x="424.27" y="269.14" width="6.1" height="89.46" fill="#3b3b3b"/>
<text x="427.82" y="261.64" text-anchor="middle" font-family="Liberation Sans, sans-serif" font-size="10.2" fill="#444">9</text>
<rect x="434.71" y="189.62" width="6.1" height="168.98" fill="#3b3b3b"/>
<text x="438.26" y="182.12" text-anchor="middle" font-family="Liberation Sans, sans-serif" font-size="10.2" fill="#444">17</text>
<line x1="72.1" x2="72.1" y1="25.6" y2="362.1" stroke="#3a3a3a" stroke-width="1.3"/>
<line x1="68.89999999999999" x2="448" y1="358.6" y2="358.6" stroke="#3a3a3a" stroke-width="1.3"/>
<text x="66.89999999999999" y="362.30" text-anchor="end" font-family="Liberation Sans, sans-serif" font-size="12.1" fill="#5a5a5a">0</text>
<line x1="68.89999999999999" x2="72.1" y1="259.45" y2="259.45" stroke="#3a3a3a" stroke-width="1"/>
<text x="66.89999999999999" y="263.20" text-anchor="end" font-family="Liberation Sans, sans-serif" font-size="12.1" fill="#5a5a5a">10</text>
<line x1="68.89999999999999" x2="72.1" y1="160.30" y2="160.30" stroke="#3a3a3a" stroke-width="1"/>
<text x="66.89999999999999" y="163.20" text-anchor="end" font-family="Liberation Sans, sans-serif" font-size="12.1" fill="#5a5a5a">20</text>
<line x1="68.89999999999999" x2="72.1" y1="60.30" y2="60.30" stroke="#3a3a3a" stroke-width="1"/>
<text x="66.89999999999999" y="63.70" text-anchor="end" font-family="Liberation Sans, sans-serif" font-size="12.1" fill="#5a5a5a">30</text>
<text x="39.5" y="373.50" font-family="Liberation Serif, serif" font-style="italic" font-size="11.5" fill="#000">Yr9</text>
<text x="39.5" y="387.40" font-family="Liberation Serif, serif" font-style="italic" font-size="11.5" fill="#000">Yr41</text>
<text x="39.5" y="401.30" font-family="Liberation Serif, serif" font-style="italic" font-size="11.5" fill="#000">Yr18</text>
<text x="39.5" y="415.20" font-family="Liberation Serif, serif" font-style="italic" font-size="11.5" fill="#000">Yr10</text>
<text x="39.5" y="429.10" font-family="Liberation Serif, serif" font-style="italic" font-size="11.5" fill="#000">Yr15</text>
<text x="39.5" y="443.00" font-family="Liberation Serif, serif" font-style="italic" font-size="11.5" fill="#000">Yr81</text>
<text x="39.5" y="456.90" font-family="Liberation Serif, serif" font-style="italic" font-size="11.5" fill="#000">Yr17</text>
<text x="39.5" y="470.80" font-family="Liberation Serif, serif" font-style="italic" font-size="11.5" fill="#000">Yr80</text>
</g>
<g id="right">
<rect x="496" y="376.89" width="338" height="14.41" fill="#f6f6f6"/>
<rect x="496" y="405.79" width="338" height="14.41" fill="#f6f6f6"/>
<rect x="496" y="434.49" width="338" height="14.41" fill="#f6f6f6"/>
<rect x="496" y="463.29" width="338" height="14.41" fill="#f6f6f6"/>
<circle cx="507.00" cy="369.60" r="2.6" fill="#e7e7e7"/>
<circle cx="507.00" cy="384.10" r="2.6" fill="#e7e7e7"/>
<circle cx="507.00" cy="399.20" r="2.6" fill="#e7e7e7"/>
<circle cx="507.00" cy="413.00" r="2.6" fill="#e7e7e7"/>
<circle cx="507.00" cy="427.70" r="2.6" fill="#e7e7e7"/>
<circle cx="507.00" cy="441.70" r="2.6" fill="#e7e7e7"/>
<circle cx="507.00" cy="456.50" r="2.6" fill="#e7e7e7"/>
<circle cx="507.00" cy="470.50" r="2.6" fill="#e7e7e7"/>
<circle cx="517.59" cy="369.60" r="2.6" fill="#e7e7e7"/>
<circle cx="517.59" cy="384.10" r="2.6" fill="#e7e7e7"/>
<circle cx="517.59" cy="399.20" r="2.6" fill="#e7e7e7"/>
<circle cx="517.59" cy="413.00" r="2.6" fill="#e7e7e7"/>
<circle cx="517.59" cy="427.70" r="2.6" fill="#e7e7e7"/>
<circle cx="517.59" cy="441.70" r="2.6" fill="#e7e7e7"/>
<circle cx="517.59" cy="456.50" r="2.6" fill="#e7e7e7"/>
<circle cx="517.59" cy="470.50" r="2.6" fill="#e7e7e7"/>
<circle cx="528.17" cy="369.60" r="2.6" fill="#e7e7e7"/>
<circle cx="528.17" cy="384.10" r="2.6" fill="#e7e7e7"/>
<circle cx="528.17" cy="399.20" r="2.6" fill="#e7e7e7"/>
<circle cx="528.17" cy="413.00" r="2.6" fill="#e7e7e7"/>
<circle cx="528.17" cy="427.70" r="2.6" fill="#e7e7e7"/>
<circle cx="528.17" cy="441.70" r="2.6" fill="#e7e7e7"/>
<circle cx="528.17" cy="456.50" r="2.6" fill="#e7e7e7"/>
<circle cx="528.17" cy="470.50" r="2.6" fill="#e7e7e7"/>
<circle cx="538.75" cy="369.60" r="2.6" fill="#e7e7e7"/>
<circle cx="538.75" cy="384.10" r="2.6" fill="#e7e7e7"/>
<circle cx="538.75" cy="399.20" r="2.6" fill="#e7e7e7"/>
<circle cx="538.75" cy="413.00" r="2.6" fill="#e7e7e7"/>
<circle cx="538.75" cy="427.70" r="2.6" fill="#e7e7e7"/>
<circle cx="538.75" cy="441.70" r="2.6" fill="#e7e7e7"/>
<circle cx="538.75" cy="456.50" r="2.6" fill="#e7e7e7"/>
<circle cx="538.75" cy="470.50" r="2.6" fill="#e7e7e7"/>
<circle cx="549.34" cy="369.60" r="2.6" fill="#e7e7e7"/>
<circle cx="549.34" cy="384.10" r="2.6" fill="#e7e7e7"/>
<circle cx="549.34" cy="399.20" r="2.6" fill="#e7e7e7"/>
<circle cx="549.34" cy="413.00" r="2.6" fill="#e7e7e7"/>
<circle cx="549.34" cy="427.70" r="2.6" fill="#e7e7e7"/>
<circle cx="549.34" cy="441.70" r="2.6" fill="#e7e7e7"/>
<circle cx="549.34" cy="456.50" r="2.6" fill="#e7e7e7"/>
<circle cx="549.34" cy="470.50" r="2.6" fill="#e7e7e7"/>
<circle cx="559.92" cy="369.60" r="2.6" fill="#e7e7e7"/>
<circle cx="559.92" cy="384.10" r="2.6" fill="#e7e7e7"/>
<circle cx="559.92" cy="399.20" r="2.6" fill="#e7e7e7"/>
<circle cx="559.92" cy="413.00" r="2.6" fill="#e7e7e7"/>
<circle cx="559.92" cy="427.70" r="2.6" fill="#e7e7e7"/>
<circle cx="559.92" cy="441.70" r="2.6" fill="#e7e7e7"/>
<circle cx="559.92" cy="456.50" r="2.6" fill="#e7e7e7"/>
<circle cx="559.92" cy="470.50" r="2.6" fill="#e7e7e7"/>
<circle cx="570.51" cy="369.60" r="2.6" fill="#e7e7e7"/>
<circle cx="570.51" cy="384.10" r="2.6" fill="#e7e7e7"/>
<circle cx="570.51" cy="399.20" r="2.6" fill="#e7e7e7"/>
<circle cx="570.51" cy="413.00" r="2.6" fill="#e7e7e7"/>
<circle cx="570.51" cy="427.70" r="2.6" fill="#e7e7e7"/>
<circle cx="570.51" cy="441.70" r="2.6" fill="#e7e7e7"/>
<circle cx="570.51" cy="456.50" r="2.6" fill="#e7e7e7"/>
<circle cx="570.51" cy="470.50" r="2.6" fill="#e7e7e7"/>
<circle cx="581.10" cy="369.60" r="2.6" fill="#e7e7e7"/>
<circle cx="581.10" cy="384.10" r="2.6" fill="#e7e7e7"/>
<circle cx="581.10" cy="399.20" r="2.6" fill="#e7e7e7"/>
<circle cx="581.10" cy="413.00" r="2.6" fill="#e7e7e7"/>
<circle cx="581.10" cy="427.70" r="2.6" fill="#e7e7e7"/>
<circle cx="581.10" cy="441.70" r="2.6" fill="#e7e7e7"/>
<circle cx="581.10" cy="456.50" r="2.6" fill="#e7e7e7"/>
<circle cx="581.10" cy="470.50" r="2.6" fill="#e7e7e7"/>
<circle cx="591.68" cy="369.60" r="2.6" fill="#e7e7e7"/>
<circle cx="591.68" cy="384.10" r="2.6" fill="#e7e7e7"/>
<circle cx="591.68" cy="399.20" r="2.6" fill="#e7e7e7"/>
<circle cx="591.68" cy="413.00" r="2.6" fill="#e7e7e7"/>
<circle cx="591.68" cy="427.70" r="2.6" fill="#e7e7e7"/>
<circle cx="591.68" cy="441.70" r="2.6" fill="#e7e7e7"/>
<circle cx="591.68" cy="456.50" r="2.6" fill="#e7e7e7"/>
<circle cx="591.68" cy="470.50" r="2.6" fill="#e7e7e7"/>
<circle cx="602.26" cy="369.60" r="2.6" fill="#e7e7e7"/>
<circle cx="602.26" cy="384.10" r="2.6" fill="#e7e7e7"/>
<circle cx="602.26" cy="399.20" r="2.6" fill="#e7e7e7"/>
<circle cx="602.26" cy="413.00" r="2.6" fill="#e7e7e7"/>
<circle cx="602.26" cy="427.70" r="2.6" fill="#e7e7e7"/>
<circle cx="602.26" cy="441.70" r="2.6" fill="#e7e7e7"/>
<circle cx="602.26" cy="456.50" r="2.6" fill="#e7e7e7"/>
<circle cx="602.26" cy="470.50" r="2.6" fill="#e7e7e7"/>
<circle cx="612.85" cy="369.60" r="2.6" fill="#e7e7e7"/>
<circle cx="612.85" cy="384.10" r="2.6" fill="#e7e7e7"/>
<circle cx="612.85" cy="399.20" r="2.6" fill="#e7e7e7"/>
<circle cx="612.85" cy="413.00" r="2.6" fill="#e7e7e7"/>
<circle cx="612.85" cy="427.70" r="2.6" fill="#e7e7e7"/>
<circle cx="612.85" cy="441.70" r="2.6" fill="#e7e7e7"/>
<circle cx="612.85" cy="456.50" r="2.6" fill="#e7e7e7"/>
<circle cx="612.85" cy="470.50" r="2.6" fill="#e7e7e7"/>
<circle cx="623.43" cy="369.60" r="2.6" fill="#e7e7e7"/>
<circle cx="623.43" cy="384.10" r="2.6" fill="#e7e7e7"/>
<circle cx="623.43" cy="399.20" r="2.6" fill="#e7e7e7"/>
<circle cx="623.43" cy="413.00" r="2.6" fill="#e7e7e7"/>
<circle cx="623.43" cy="427.70" r="2.6" fill="#e7e7e7"/>
<circle cx="623.43" cy="441.70" r="2.6" fill="#e7e7e7"/>
<circle cx="623.43" cy="456.50" r="2.6" fill="#e7e7e7"/>
<circle cx="623.43" cy="470.50" r="2.6" fill="#e7e7e7"/>
<circle cx="634.02" cy="369.60" r="2.6" fill="#e7e7e7"/>
<circle cx="634.02" cy="384.10" r="2.6" fill="#e7e7e7"/>
<circle cx="634.02" cy="399.20" r="2.6" fill="#e7e7e7"/>
<circle cx="634.02" cy="413.00" r="2.6" fill="#e7e7e7"/>
<circle cx="634.02" cy="427.70" r="2.6" fill="#e7e7e7"/>
<circle cx="634.02" cy="441.70" r="2.6" fill="#e7e7e7"/>
<circle cx="634.02" cy="456.50" r="2.6" fill="#e7e7e7"/>
<circle cx="634.02" cy="470.50" r="2.6" fill="#e7e7e7"/>
<circle cx="644.61" cy="369.60" r="2.6" fill="#e7e7e7"/>
<circle cx="644.61" cy="384.10" r="2.6" fill="#e7e7e7"/>
<circle cx="644.61" cy="399.20" r="2.6" fill="#e7e7e7"/>
<circle cx="644.61" cy="413.00" r="2.6" fill="#e7e7e7"/>
<circle cx="644.61" cy="427.70" r="2.6" fill="#e7e7e7"/>
<circle cx="644.61" cy="441.70" r="2.6" fill="#e7e7e7"/>
<circle cx="644.61" cy="456.50" r="2.6" fill="#e7e7e7"/>
<circle cx="644.61" cy="470.50" r="2.6" fill="#e7e7e7"/>
<circle cx="655.19" cy="369.60" r="2.6" fill="#e7e7e7"/>
<circle cx="655.19" cy="384.10" r="2.6" fill="#e7e7e7"/>
<circle cx="655.19" cy="399.20" r="2.6" fill="#e7e7e7"/>
<circle cx="655.19" cy="413.00" r="2.6" fill="#e7e7e7"/>
<circle cx="655.19" cy="427.70" r="2.6" fill="#e7e7e7"/>
<circle cx="655.19" cy="441.70" r="2.6" fill="#e7e7e7"/>
<circle cx="655.19" cy="456.50" r="2.6" fill="#e7e7e7"/>
<circle cx="655.19" cy="470.50" r="2.6" fill="#e7e7e7"/>
<circle cx="665.77" cy="369.60" r="2.6" fill="#e7e7e7"/>
<circle cx="665.77" cy="384.10" r="2.6" fill="#e7e7e7"/>
<circle cx="665.77" cy="399.20" r="2.6" fill="#e7e7e7"/>
<circle cx="665.77" cy="413.00" r="2.6" fill="#e7e7e7"/>
<circle cx="665.77" cy="427.70" r="2.6" fill="#e7e7e7"/>
<circle cx="665.77" cy="441.70" r="2.6" fill="#e7e7e7"/>
<circle cx="665.77" cy="456.50" r="2.6" fill="#e7e7e7"/>
<circle cx="665.77" cy="470.50" r="2.6" fill="#e7e7e7"/>
<circle cx="676.36" cy="369.60" r="2.6" fill="#e7e7e7"/>
<circle cx="676.36" cy="384.10" r="2.6" fill="#e7e7e7"/>
<circle cx="676.36" cy="399.20" r="2.6" fill="#e7e7e7"/>
<circle cx="676.36" cy="413.00" r="2.6" fill="#e7e7e7"/>
<circle cx="676.36" cy="427.70" r="2.6" fill="#e7e7e7"/>
<circle cx="676.36" cy="441.70" r="2.6" fill="#e7e7e7"/>
<circle cx="676.36" cy="456.50" r="2.6" fill="#e7e7e7"/>
<circle cx="676.36" cy="470.50" r="2.6" fill="#e7e7e7"/>
<circle cx="686.95" cy="369.60" r="2.6" fill="#e7e7e7"/>
<circle cx="686.95" cy="384.10" r="2.6" fill="#e7e7e7"/>
<circle cx="686.95" cy="399.20" r="2.6" fill="#e7e7e7"/>
<circle cx="686.95" cy="413.00" r="2.6" fill="#e7e7e7"/>
<circle cx="686.95" cy="427.70" r="2.6" fill="#e7e7e7"/>
<circle cx="686.95" cy="441.70" r="2.6" fill="#e7e7e7"/>
<circle cx="686.95" cy="456.50" r="2.6" fill="#e7e7e7"/>
<circle cx="686.95" cy="470.50" r="2.6" fill="#e7e7e7"/>
<circle cx="697.53" cy="369.60" r="2.6" fill="#e7e7e7"/>
<circle cx="697.53" cy="384.10" r="2.6" fill="#e7e7e7"/>
<circle cx="697.53" cy="399.20" r="2.6" fill="#e7e7e7"/>
<circle cx="697.53" cy="413.00" r="2.6" fill="#e7e7e7"/>
<circle cx="697.53" cy="427.70" r="2.6" fill="#e7e7e7"/>
<circle cx="697.53" cy="441.70" r="2.6" fill="#e7e7e7"/>
<circle cx="697.53" cy="456.50" r="2.6" fill="#e7e7e7"/>
<circle cx="697.53" cy="470.50" r="2.6" fill="#e7e7e7"/>
<circle cx="708.12" cy="369.60" r="2.6" fill="#e7e7e7"/>
<circle cx="708.12" cy="384.10" r="2.6" fill="#e7e7e7"/>
<circle cx="708.12" cy="399.20" r="2.6" fill="#e7e7e7"/>
<circle cx="708.12" cy="413.00" r="2.6" fill="#e7e7e7"/>
<circle cx="708.12" cy="427.70" r="2.6" fill="#e7e7e7"/>
<circle cx="708.12" cy="441.70" r="2.6" fill="#e7e7e7"/>
<circle cx="708.12" cy="456.50" r="2.6" fill="#e7e7e7"/>
<circle cx="708.12" cy="470.50" r="2.6" fill="#e7e7e7"/>
<circle cx="718.70" cy="369.60" r="2.6" fill="#e7e7e7"/>
<circle cx="718.70" cy="384.10" r="2.6" fill="#e7e7e7"/>
<circle cx="718.70" cy="399.20" r="2.6" fill="#e7e7e7"/>
<circle cx="718.70" cy="413.00" r="2.6" fill="#e7e7e7"/>
<circle cx="718.70" cy="427.70" r="2.6" fill="#e7e7e7"/>
<circle cx="718.70" cy="441.70" r="2.6" fill="#e7e7e7"/>
<circle cx="718.70" cy="456.50" r="2.6" fill="#e7e7e7"/>
<circle cx="718.70" cy="470.50" r="2.6" fill="#e7e7e7"/>
<circle cx="729.29" cy="369.60" r="2.6" fill="#e7e7e7"/>
<circle cx="729.29" cy="384.10" r="2.6" fill="#e7e7e7"/>
<circle cx="729.29" cy="399.20" r="2.6" fill="#e7e7e7"/>
<circle cx="729.29" cy="413.00" r="2.6" fill="#e7e7e7"/>
<circle cx="729.29" cy="427.70" r="2.6" fill="#e7e7e7"/>
<circle cx="729.29" cy="441.70" r="2.6" fill="#e7e7e7"/>
<circle cx="729.29" cy="456.50" r="2.6" fill="#e7e7e7"/>
<circle cx="729.29" cy="470.50" r="2.6" fill="#e7e7e7"/>
<circle cx="739.87" cy="369.60" r="2.6" fill="#e7e7e7"/>
<circle cx="739.87" cy="384.10" r="2.6" fill="#e7e7e7"/>
<circle cx="739.87" cy="399.20" r="2.6" fill="#e7e7e7"/>
<circle cx="739.87" cy="413.00" r="2.6" fill="#e7e7e7"/>
<circle cx="739.87" cy="427.70" r="2.6" fill="#e7e7e7"/>
<circle cx="739.87" cy="441.70" r="2.6" fill="#e7e7e7"/>
<circle cx="739.87" cy="456.50" r="2.6" fill="#e7e7e7"/>
<circle cx="739.87" cy="470.50" r="2.6" fill="#e7e7e7"/>
<circle cx="750.46" cy="369.60" r="2.6" fill="#e7e7e7"/>
<circle cx="750.46" cy="384.10" r="2.6" fill="#e7e7e7"/>
<circle cx="750.46" cy="399.20" r="2.6" fill="#e7e7e7"/>
<circle cx="750.46" cy="413.00" r="2.6" fill="#e7e7e7"/>
<circle cx="750.46" cy="427.70" r="2.6" fill="#e7e7e7"/>
<circle cx="750.46" cy="441.70" r="2.6" fill="#e7e7e7"/>
<circle cx="750.46" cy="456.50" r="2.6" fill="#e7e7e7"/>
<circle cx="750.46" cy="470.50" r="2.6" fill="#e7e7e7"/>
<circle cx="761.04" cy="369.60" r="2.6" fill="#e7e7e7"/>
<circle cx="761.04" cy="384.10" r="2.6" fill="#e7e7e7"/>
<circle cx="761.04" cy="399.20" r="2.6" fill="#e7e7e7"/>
<circle cx="761.04" cy="413.00" r="2.6" fill="#e7e7e7"/>
<circle cx="761.04" cy="427.70" r="2.6" fill="#e7e7e7"/>
<circle cx="761.04" cy="441.70" r="2.6" fill="#e7e7e7"/>
<circle cx="761.04" cy="456.50" r="2.6" fill="#e7e7e7"/>
<circle cx="761.04" cy="470.50" r="2.6" fill="#e7e7e7"/>
<circle cx="771.62" cy="369.60" r="2.6" fill="#e7e7e7"/>
<circle cx="771.62" cy="384.10" r="2.6" fill="#e7e7e7"/>
<circle cx="771.62" cy="399.20" r="2.6" fill="#e7e7e7"/>
<circle cx="771.62" cy="413.00" r="2.6" fill="#e7e7e7"/>
<circle cx="771.62" cy="427.70" r="2.6" fill="#e7e7e7"/>
<circle cx="771.62" cy="441.70" r="2.6" fill="#e7e7e7"/>
<circle cx="771.62" cy="456.50" r="2.6" fill="#e7e7e7"/>
<circle cx="771.62" cy="470.50" r="2.6" fill="#e7e7e7"/>
<circle cx="782.21" cy="369.60" r="2.6" fill="#e7e7e7"/>
<circle cx="782.21" cy="384.10" r="2.6" fill="#e7e7e7"/>
<circle cx="782.21" cy="399.20" r="2.6" fill="#e7e7e7"/>
<circle cx="782.21" cy="413.00" r="2.6" fill="#e7e7e7"/>
<circle cx="782.21" cy="427.70" r="2.6" fill="#e7e7e7"/>
<circle cx="782.21" cy="441.70" r="2.6" fill="#e7e7e7"/>
<circle cx="782.21" cy="456.50" r="2.6" fill="#e7e7e7"/>
<circle cx="782.21" cy="470.50" r="2.6" fill="#e7e7e7"/>
<circle cx="792.80" cy="369.60" r="2.6" fill="#e7e7e7"/>
<circle cx="792.80" cy="384.10" r="2.6" fill="#e7e7e7"/>
<circle cx="792.80" cy="399.20" r="2.6" fill="#e7e7e7"/>
<circle cx="792.80" cy="413.00" r="2.6" fill="#e7e7e7"/>
<circle cx="792.80" cy="427.70" r="2.6" fill="#e7e7e7"/>
<circle cx="792.80" cy="441.70" r="2.6" fill="#e7e7e7"/>
<circle cx="792.80" cy="456.50" r="2.6" fill="#e7e7e7"/>
<circle cx="792.80" cy="470.50" r="2.6" fill="#e7e7e7"/>
<circle cx="803.38" cy="369.60" r="2.6" fill="#e7e7e7"/>
<circle cx="803.38" cy="384.10" r="2.6" fill="#e7e7e7"/>
<circle cx="803.38" cy="399.20" r="2.6" fill="#e7e7e7"/>
<circle cx="803.38" cy="413.00" r="2.6" fill="#e7e7e7"/>
<circle cx="803.38" cy="427.70" r="2.6" fill="#e7e7e7"/>
<circle cx="803.38" cy="441.70" r="2.6" fill="#e7e7e7"/>
<circle cx="803.38" cy="456.50" r="2.6" fill="#e7e7e7"/>
<circle cx="803.38" cy="470.50" r="2.6" fill="#e7e7e7"/>
<circle cx="813.97" cy="369.60" r="2.6" fill="#e7e7e7"/>
<circle cx="813.97" cy="384.10" r="2.6" fill="#e7e7e7"/>
<circle cx="813.97" cy="399.20" r="2.6" fill="#e7e7e7"/>
<circle cx="813.97" cy="413.00" r="2.6" fill="#e7e7e7"/>
<circle cx="813.97" cy="427.70" r="2.6" fill="#e7e7e7"/>
<circle cx="813.97" cy="441.70" r="2.6" fill="#e7e7e7"/>
<circle cx="813.97" cy="456.50" r="2.6" fill="#e7e7e7"/>
<circle cx="813.97" cy="470.50" r="2.6" fill="#e7e7e7"/>
<circle cx="824.55" cy="369.60" r="2.6" fill="#e7e7e7"/>
<circle cx="824.55" cy="384.10" r="2.6" fill="#e7e7e7"/>
<circle cx="824.55" cy="399.20" r="2.6" fill="#e7e7e7"/>
<circle cx="824.55" cy="413.00" r="2.6" fill="#e7e7e7"/>
<circle cx="824.55" cy="427.70" r="2.6" fill="#e7e7e7"/>
<circle cx="824.55" cy="441.70" r="2.6" fill="#e7e7e7"/>
<circle cx="824.55" cy="456.50" r="2.6" fill="#e7e7e7"/>
<circle cx="824.55" cy="470.50" r="2.6" fill="#e7e7e7"/>
<line x1="507.00" x2="507.00" y1="399.20" y2="470.50" stroke="#444" stroke-width="1.1"/>
<circle cx="507.00" cy="399.20" r="2.8" fill="#333"/>
<circle cx="507.00" cy="427.70" r="2.8" fill="#333"/>
<circle cx="507.00" cy="441.70" r="2.8" fill="#333"/>
<circle cx="507.00" cy="456.50" r="2.8" fill="#333"/>
<circle cx="507.00" cy="470.50" r="2.8" fill="#333"/>
<line x1="517.59" x2="517.59" y1="369.60" y2="470.50" stroke="#444" stroke-width="1.1"/>
<circle cx="517.59" cy="369.60" r="2.8" fill="#333"/>
<circle cx="517.59" cy="427.70" r="2.8" fill="#333"/>
<circle cx="517.59" cy="441.70" r="2.8" fill="#333"/>
<circle cx="517.59" cy="470.50" r="2.8" fill="#333"/>
<line x1="528.17" x2="528.17" y1="399.20" y2="470.50" stroke="#444" stroke-width="1.1"/>
<circle cx="528.17" cy="399.20" r="2.8" fill="#333"/>
<circle cx="528.17" cy="413.00" r="2.8" fill="#333"/>
<circle cx="528.17" cy="456.50" r="2.8" fill="#333"/>
<circle cx="528.17" cy="470.50" r="2.8" fill="#333"/>
<line x1="538.75" x2="538.75" y1="369.60" y2="470.50" stroke="#444" stroke-width="1.1"/>
<circle cx="538.75" cy="369.60" r="2.8" fill="#333"/>
<circle cx="538.75" cy="427.70" r="2.8" fill="#333"/>
<circle cx="538.75" cy="456.50" r="2.8" fill="#333"/>
<circle cx="538.75" cy="470.50" r="2.8" fill="#333"/>
<line x1="549.34" x2="549.34" y1="413.00" y2="470.50" stroke="#444" stroke-width="1.1"/>
<circle cx="549.34" cy="413.00" r="2.8" fill="#333"/>
<circle cx="549.34" cy="427.70" r="2.8" fill="#333"/>
<circle cx="549.34" cy="456.50" r="2.8" fill="#333"/>
<circle cx="549.34" cy="470.50" r="2.8" fill="#333"/>
<line x1="559.92" x2="559.92" y1="413.00" y2="470.50" stroke="#444" stroke-width="1.1"/>
<circle cx="559.92" cy="413.00" r="2.8" fill="#333"/>
<circle cx="559.92" cy="441.70" r="2.8" fill="#333"/>
<circle cx="559.92" cy="456.50" r="2.8" fill="#333"/>
<circle cx="559.92" cy="470.50" r="2.8" fill="#333"/>
<line x1="570.51" x2="570.51" y1="427.70" y2="470.50" stroke="#444" stroke-width="1.1"/>
<circle cx="570.51" cy="427.70" r="2.8" fill="#333"/>
<circle cx="570.51" cy="441.70" r="2.8" fill="#333"/>
<circle cx="570.51" cy="456.50" r="2.8" fill="#333"/>
<circle cx="570.51" cy="470.50" r="2.8" fill="#333"/>
<line x1="581.10" x2="581.10" y1="384.10" y2="470.50" stroke="#444" stroke-width="1.1"/>
<circle cx="581.10" cy="384.10" r="2.8" fill="#333"/>
<circle cx="581.10" cy="399.20" r="2.8" fill="#333"/>
<circle cx="581.10" cy="470.50" r="2.8" fill="#333"/>
<line x1="591.68" x2="591.68" y1="384.10" y2="470.50" stroke="#444" stroke-width="1.1"/>
<circle cx="591.68" cy="384.10" r="2.8" fill="#333"/>
<circle cx="591.68" cy="413.00" r="2.8" fill="#333"/>
<circle cx="591.68" cy="470.50" r="2.8" fill="#333"/>
<line x1="602.26" x2="602.26" y1="399.20" y2="470.50" stroke="#444" stroke-width="1.1"/>
<circle cx="602.26" cy="399.20" r="2.8" fill="#333"/>
<circle cx="602.26" cy="413.00" r="2.8" fill="#333"/>
<circle cx="602.26" cy="470.50" r="2.8" fill="#333"/>
<line x1="612.85" x2="612.85" y1="369.60" y2="470.50" stroke="#444" stroke-width="1.1"/>
<circle cx="612.85" cy="369.60" r="2.8" fill="#333"/>
<circle cx="612.85" cy="427.70" r="2.8" fill="#333"/>
<circle cx="612.85" cy="470.50" r="2.8" fill="#333"/>
<line x1="623.43" x2="623.43" y1="399.20" y2="470.50" stroke="#444" stroke-width="1.1"/>
<circle cx="623.43" cy="399.20" r="2.8" fill="#333"/>
<circle cx="623.43" cy="427.70" r="2.8" fill="#333"/>
<circle cx="623.43" cy="470.50" r="2.8" fill="#333"/>
<line x1="634.02" x2="634.02" y1="413.00" y2="470.50" stroke="#444" stroke-width="1.1"/>
<circle cx="634.02" cy="413.00" r="2.8" fill="#333"/>
<circle cx="634.02" cy="427.70" r="2.8" fill="#333"/>
<circle cx="634.02" cy="470.50" r="2.8" fill="#333"/>
<line x1="644.61" x2="644.61" y1="427.70" y2="470.50" stroke="#444" stroke-width="1.1"/>
<circle cx="644.61" cy="427.70" r="2.8" fill="#333"/>
<circle cx="644.61" cy="441.70" r="2.8" fill="#333"/>
<circle cx="644.61" cy="470.50" r="2.8" fill="#333"/>
<line x1="655.19" x2="655.19" y1="413.00" y2="470.50" stroke="#444" stroke-width="1.1"/>
<circle cx="655.19" cy="413.00" r="2.8" fill="#333"/>
<circle cx="655.19" cy="456.50" r="2.8" fill="#333"/>
<circle cx="655.19" cy="470.50" r="2.8" fill="#333"/>
<line x1="665.77" x2="665.77" y1="427.70" y2="470.50" stroke="#444" stroke-width="1.1"/>
<circle cx="665.77" cy="427.70" r="2.8" fill="#333"/>
<circle cx="665.77" cy="456.50" r="2.8" fill="#333"/>
<circle cx="665.77" cy="470.50" r="2.8" fill="#333"/>
<line x1="676.36" x2="676.36" y1="441.70" y2="470.50" stroke="#444" stroke-width="1.1"/>
<circle cx="676.36" cy="441.70" r="2.8" fill="#333"/>
<circle cx="676.36" cy="456.50" r="2.8" fill="#333"/>
<circle cx="676.36" cy="470.50" r="2.8" fill="#333"/>
<line x1="686.95" x2="686.95" y1="441.70" y2="456.50" stroke="#444" stroke-width="1.1"/>
<circle cx="686.95" cy="441.70" r="2.8" fill="#333"/>
<circle cx="686.95" cy="456.50" r="2.8" fill="#333"/>
<line x1="697.53" x2="697.53" y1="369.60" y2="470.50" stroke="#444" stroke-width="1.1"/>
<circle cx="697.53" cy="369.60" r="2.8" fill="#333"/>
<circle cx="697.53" cy="470.50" r="2.8" fill="#333"/>
<line x1="708.12" x2="708.12" y1="384.10" y2="470.50" stroke="#444" stroke-width="1.1"/>
<circle cx="708.12" cy="384.10" r="2.8" fill="#333"/>
<circle cx="708.12" cy="470.50" r="2.8" fill="#333"/>
<line x1="718.70" x2="718.70" y1="399.20" y2="470.50" stroke="#444" stroke-width="1.1"/>
<circle cx="718.70" cy="399.20" r="2.8" fill="#333"/>
<circle cx="718.70" cy="470.50" r="2.8" fill="#333"/>
<line x1="729.29" x2="729.29" y1="413.00" y2="470.50" stroke="#444" stroke-width="1.1"/>
<circle cx="729.29" cy="413.00" r="2.8" fill="#333"/>
<circle cx="729.29" cy="470.50" r="2.8" fill="#333"/>
<line x1="739.87" x2="739.87" y1="427.70" y2="470.50" stroke="#444" stroke-width="1.1"/>
<circle cx="739.87" cy="427.70" r="2.8" fill="#333"/>
<circle cx="739.87" cy="470.50" r="2.8" fill="#333"/>
<line x1="750.46" x2="750.46" y1="441.70" y2="470.50" stroke="#444" stroke-width="1.1"/>
<circle cx="750.46" cy="441.70" r="2.8" fill="#333"/>
<circle cx="750.46" cy="470.50" r="2.8" fill="#333"/>
<line x1="761.04" x2="761.04" y1="456.50" y2="470.50" stroke="#444" stroke-width="1.1"/>
<circle cx="761.04" cy="456.50" r="2.8" fill="#333"/>
<circle cx="761.04" cy="470.50" r="2.8" fill="#333"/>
<circle cx="771.62" cy="399.20" r="2.8" fill="#333"/>
<circle cx="782.21" cy="413.00" r="2.8" fill="#333"/>
<circle cx="792.80" cy="427.70" r="2.8" fill="#333"/>
<circle cx="803.38" cy="441.70" r="2.8" fill="#333"/>
<circle cx="813.97" cy="456.50" r="2.8" fill="#333"/>
<circle cx="824.55" cy="470.50" r="2.8" fill="#333"/>
<rect x="503.50" y="346.24" width="6.2" height="12.26" fill="#3b3b3b"/>
<text x="507.00" y="338.04" text-anchor="middle" font-family="Liberation Sans, sans-serif" font-size="10.8" fill="#444">1</text>
<rect x="514.09" y="346.24" width="6.2" height="12.26" fill="#3b3b3b"/>
<text x="517.59" y="338.04" text-anchor="middle" font-family="Liberation Sans, sans-serif" font-size="10.8" fill="#444">1</text>
<rect x="524.67" y="346.24" width="6.2" height="12.26" fill="#3b3b3b"/>
<text x="528.17" y="338.04" text-anchor="middle" font-family="Liberation Sans, sans-serif" font-size="10.8" fill="#444">1</text>
<rect x="535.25" y="346.24" width="6.2" height="12.26" fill="#3b3b3b"/>
<text x="538.75" y="338.04" text-anchor="middle" font-family="Liberation Sans, sans-serif" font-size="10.8" fill="#444">1</text>
<rect x="545.84" y="346.24" width="6.2" height="12.26" fill="#3b3b3b"/>
<text x="549.34" y="338.04" text-anchor="middle" font-family="Liberation Sans, sans-serif" font-size="10.8" fill="#444">1</text>
<rect x="556.42" y="346.24" width="6.2" height="12.26" fill="#3b3b3b"/>
<text x="559.92" y="338.04" text-anchor="middle" font-family="Liberation Sans, sans-serif" font-size="10.8" fill="#444">1</text>
<rect x="567.01" y="309.46" width="6.2" height="49.04" fill="#3b3b3b"/>
<text x="570.51" y="301.26" text-anchor="middle" font-family="Liberation Sans, sans-serif" font-size="10.8" fill="#444">4</text>
<rect x="577.60" y="321.72" width="6.2" height="36.78" fill="#3b3b3b"/>
<text x="581.10" y="313.52" text-anchor="middle" font-family="Liberation Sans, sans-serif" font-size="10.8" fill="#444">3</text>
<rect x="588.18" y="346.24" width="6.2" height="12.26" fill="#3b3b3b"/>
<text x="591.68" y="338.04" text-anchor="middle" font-family="Liberation Sans, sans-serif" font-size="10.8" fill="#444">1</text>
<rect x="598.76" y="333.98" width="6.2" height="24.52" fill="#3b3b3b"/>
<text x="602.26" y="325.78" text-anchor="middle" font-family="Liberation Sans, sans-serif" font-size="10.8" fill="#444">2</text>
<rect x="609.35" y="346.24" width="6.2" height="12.26" fill="#3b3b3b"/>
<text x="612.85" y="338.04" text-anchor="middle" font-family="Liberation Sans, sans-serif" font-size="10.8" fill="#444">1</text>
<rect x="619.93" y="333.98" width="6.2" height="24.52" fill="#3b3b3b"/>
<text x="623.43" y="325.78" text-anchor="middle" font-family="Liberation Sans, sans-serif" font-size="10.8" fill="#444">2</text>
<rect x="630.52" y="333.98" width="6.2" height="24.52" fill="#3b3b3b"/>
<text x="634.02" y="325.78" text-anchor="middle" font-family="Liberation Sans, sans-serif" font-size="10.8" fill="#444">2</text>
<rect x="641.11" y="309.46" width="6.2" height="49.04" fill="#3b3b3b"/>
<text x="644.61" y="301.26" text-anchor="middle" font-family="Liberation Sans, sans-serif" font-size="10.8" fill="#444">4</text>
<rect x="651.69" y="272.68" width="6.2" height="85.82" fill="#3b3b3b"/>
<text x="655.19" y="264.48" text-anchor="middle" font-family="Liberation Sans, sans-serif" font-size="10.8" fill="#444">7</text>
<rect x="662.27" y="309.46" width="6.2" height="49.04" fill="#3b3b3b"/>
<text x="665.77" y="301.26" text-anchor="middle" font-family="Liberation Sans, sans-serif" font-size="10.8" fill="#444">4</text>
<rect x="672.86" y="272.68" width="6.2" height="85.82" fill="#3b3b3b"/>
<text x="676.36" y="264.48" text-anchor="middle" font-family="Liberation Sans, sans-serif" font-size="10.8" fill="#444">7</text>
<rect x="683.45" y="346.24" width="6.2" height="12.26" fill="#3b3b3b"/>
<text x="686.95" y="338.04" text-anchor="middle" font-family="Liberation Sans, sans-serif" font-size="10.8" fill="#444">1</text>
<rect x="694.03" y="321.72" width="6.2" height="36.78" fill="#3b3b3b"/>
<text x="697.53" y="313.52" text-anchor="middle" font-family="Liberation Sans, sans-serif" font-size="10.8" fill="#444">3</text>
<rect x="704.62" y="321.72" width="6.2" height="36.78" fill="#3b3b3b"/>
<text x="708.12" y="313.52" text-anchor="middle" font-family="Liberation Sans, sans-serif" font-size="10.8" fill="#444">3</text>
<rect x="715.20" y="297.20" width="6.2" height="61.30" fill="#3b3b3b"/>
<text x="718.70" y="289.00" text-anchor="middle" font-family="Liberation Sans, sans-serif" font-size="10.8" fill="#444">5</text>
<rect x="725.79" y="309.46" width="6.2" height="49.04" fill="#3b3b3b"/>
<text x="729.29" y="301.26" text-anchor="middle" font-family="Liberation Sans, sans-serif" font-size="10.8" fill="#444">4</text>
<rect x="736.37" y="162.34" width="6.2" height="196.16" fill="#3b3b3b"/>
<text x="739.87" y="154.14" text-anchor="middle" font-family="Liberation Sans, sans-serif" font-size="10.8" fill="#444">16</text>
<rect x="746.96" y="113.30" width="6.2" height="245.20" fill="#3b3b3b"/>
<text x="750.46" y="105.10" text-anchor="middle" font-family="Liberation Sans, sans-serif" font-size="10.8" fill="#444">20</text>
<rect x="757.54" y="52.00" width="6.2" height="306.50" fill="#3b3b3b"/>
<text x="761.04" y="43.80" text-anchor="middle" font-family="Liberation Sans, sans-serif" font-size="10.8" fill="#444">25</text>
<rect x="768.12" y="346.24" width="6.2" height="12.26" fill="#3b3b3b"/>
<text x="771.62" y="338.04" text-anchor="middle" font-family="Liberation Sans, sans-serif" font-size="10.8" fill="#444">1</text>
<rect x="778.71" y="346.24" width="6.2" height="12.26" fill="#3b3b3b"/>
<text x="782.21" y="338.04" text-anchor="middle" font-family="Liberation Sans, sans-serif" font-size="10.8" fill="#444">1</text>
<rect x="789.30" y="346.24" width="6.2" height="12.26" fill="#3b3b3b"/>
<text x="792.80" y="338.04" text-anchor="middle" font-family="Liberation Sans, sans-serif" font-size="10.8" fill="#444">1</text>
<rect x="799.88" y="346.24" width="6.2" height="12.26" fill="#3b3b3b"/>
<text x="803.38" y="338.04" text-anchor="middle" font-family="Liberation Sans, sans-serif" font-size="10.8" fill="#444">1</text>
<rect x="810.47" y="346.24" width="6.2" height="12.26" fill="#3b3b3b"/>
<text x="813.97" y="338.04" text-anchor="middle" font-family="Liberation Sans, sans-serif" font-size="10.8" fill="#444">1</text>
<rect x="821.05" y="64.26" width="6.2" height="294.24" fill="#3b3b3b"/>
<text x="824.55" y="56.06" text-anchor="middle" font-family="Liberation Sans, sans-serif" font-size="10.8" fill="#444">24</text>
<line x1="496.9" x2="496.9" y1="4.5" y2="362.0" stroke="#3a3a3a" stroke-width="1.3"/>
<line x1="492.9" x2="835" y1="358.5" y2="358.5" stroke="#3a3a3a" stroke-width="1.3"/>
<text x="490.7" y="362.40" text-anchor="end" font-family="Liberation Sans, sans-serif" font-size="13.1" fill="#5a5a5a">0</text>
<line x1="492.9" x2="496.9" y1="236.50" y2="236.50" stroke="#3a3a3a" stroke-width="1"/>
<text x="490.7" y="239.70" text-anchor="end" font-family="Liberation Sans, sans-serif" font-size="13.1" fill="#5a5a5a">10</text>
<line x1="492.9" x2="496.9" y1="113.40" y2="113.40" stroke="#3a3a3a" stroke-width="1"/>
<text x="490.7" y="117.40" text-anchor="end" font-family="Liberation Sans, sans-serif" font-size="13.1" fill="#5a5a5a">20</text>
<text x="469" y="374.50" font-family="Liberation Serif, serif" font-style="italic" font-size="11.5" fill="#000">Yr41</text>
<text x="469" y="388.50" font-family="Liberation Serif, serif" font-style="italic" font-size="11.5" fill="#000">Yr15</text>
<text x="469" y="402.50" font-family="Liberation Serif, serif" font-style="italic" font-size="11.5" fill="#000">Yr18</text>
<text x="469" y="416.50" font-family="Liberation Serif, serif" font-style="italic" font-size="11.5" fill="#000">Yr10</text>
<text x="469" y="430.50" font-family="Liberation Serif, serif" font-style="italic" font-size="11.5" fill="#000">Yr80</text>
<text x="469" y="444.50" font-family="Liberation Serif, serif" font-style="italic" font-size="11.5" fill="#000">Yr9</text>
<text x="469" y="458.50" font-family="Liberation Serif, serif" font-style="italic" font-size="11.5" fill="#000">Yr81</text>
<text x="469" y="472.50" font-family="Liberation Serif, serif" font-style="italic" font-size="11.5" fill="#000">Yr17</text>
</g>
<text id="ylab" transform="translate(24.5,194.3) rotate(-90)" text-anchor="middle" font-family="Liberation Serif, serif" font-size="23.1" fill="#111" stroke="#111" stroke-width="0.25" xml:space="preserve">varieties(lines)  number</text>
<text id="xlab" x="451.1" y="507" text-anchor="middle" font-family="Liberation Serif, serif" font-size="23.2" fill="#111" stroke="#111" stroke-width="0.25">Different polygenic combinations</text>
<rect x="0" y="518.8" width="2" height="1.2" fill="#777"/>
<rect x="845.7" y="0" width="1.3" height="520" fill="#000"/>
</svg>
</body></html>
